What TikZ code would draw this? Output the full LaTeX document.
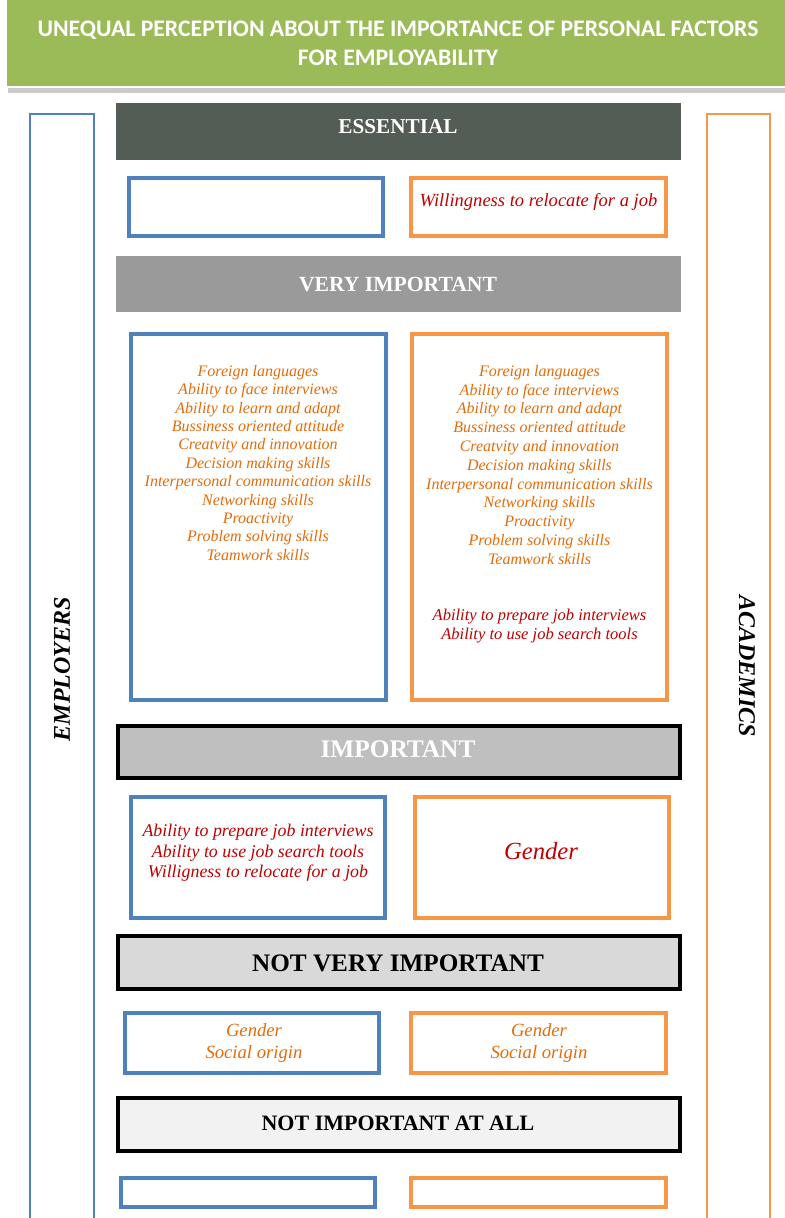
\documentclass[tikz,border=0pt]{standalone}
\usepackage{fontspec}
\setmainfont{Liberation Serif}
\newfontfamily\titlefont{Carlito}
\definecolor{titlegreen}{HTML}{9BBB59}
\definecolor{empblue}{HTML}{4F81BD}
\definecolor{acaorange}{HTML}{F79646}
\definecolor{essfill}{HTML}{535D55}
\definecolor{vimpfill}{HTML}{9A9A9A}
\definecolor{impfill}{HTML}{BFBFBF}
\definecolor{nvimpfill}{HTML}{D9D9D9}
\definecolor{nimpfill}{HTML}{F2F2F2}
\definecolor{itemorange}{HTML}{E46C0A}
\definecolor{itemred}{HTML}{C00000}
\tikzset{
  x=0.75pt, y=-0.75pt,
  empbox/.style={draw=empblue, line width=2.4pt, fill=white},
  acabox/.style={draw=acaorange, line width=2.4pt, fill=white},
  levelframed/.style={draw=black, line width=2.4pt},
  leveltext/.style={font=\bfseries\fontsize{#1}{#1}\selectfont, inner sep=0pt},
  itemtext/.style 2 args={font=\itshape\fontsize{#1}{#2}\selectfont, align=center, inner sep=0pt},
  orangelist/.style 2 args={text=itemorange, itemtext={#1}{#2}},
  redlist/.style 2 args={text=itemred, itemtext={#1}{#2}},
  sidetext/.style={font=\bfseries\itshape\fontsize{18}{18}\selectfont, inner sep=0pt}
}
\begin{document}
\begin{tikzpicture}
\useasboundingbox (0,0) rectangle (785,1218);

% title banner with a soft shadow
\fill[black!35, opacity=0.6] (8,4) rectangle (792,93);
\filldraw[fill=titlegreen, draw=white, line width=1.5pt] (6,-4) rectangle (792,87);
\node[text=white, align=center, font=\titlefont\bfseries\fontsize{17.8}{21.8}\selectfont] (title) at (398,43)
  {UNEQUAL PERCEPTION ABOUT THE IMPORTANCE OF PERSONAL FACTORS\\FOR EMPLOYABILITY};

% side columns
\draw[empblue, line width=2.2pt] (30,1225) -- (30,114) -- (94,114) -- (94,1225);
\draw[acaorange, line width=2.2pt] (707,1225) -- (707,114) -- (770,114) -- (770,1225);
\node[sidetext, rotate=90] (employers) at (62,669) {EMPLOYERS};
\node[sidetext, rotate=-90] (academics) at (747,666) {ACADEMICS};

% ESSENTIAL
\fill[essfill] (116,103) rectangle (681,160);
\node[leveltext=15.9, text=white] (essential) at (398,127) {ESSENTIAL};
\draw[empbox] (129,178) rectangle (383,236);
\draw[acabox] (411,178) rectangle (666,236);
\node[redlist={13.9}{14}] (ess-a) at (538.5,202) {Willingness to relocate for a job};

% VERY IMPORTANT
\fill[vimpfill] (116,256) rectangle (681,312);
\node[leveltext=16.2, text=white] (veryimp) at (398,285) {VERY IMPORTANT};
\draw[empbox] (131,334) rectangle (386,700);
\draw[acabox] (412,334) rectangle (667,700);
\node[orangelist={12}{13.8}, anchor=north] (vi-e) at (258,365) {Foreign languages\\Ability to face interviews\\Ability to learn and adapt\\Bussiness oriented attitude\\Creatvity and innovation\\Decision making skills\\Interpersonal communication skills\\Networking skills\\Proactivity\\Problem solving skills\\Teamwork skills};
\node[orangelist={12}{14.1}, anchor=north] (vi-a) at (539.5,365) {Foreign languages\\Ability to face interviews\\Ability to learn and adapt\\Bussiness oriented attitude\\Creatvity and innovation\\Decision making skills\\Interpersonal communication skills\\Networking skills\\Proactivity\\Problem solving skills\\Teamwork skills};
\node[redlist={12.4}{14.1}] (vi-a2) at (539.5,626) {Ability to prepare job interviews\\Ability to use job search tools};

% IMPORTANT
\filldraw[levelframed, fill=impfill] (118,726) rectangle (680,778);
\node[leveltext=19, text=white] (important) at (398,749) {IMPORTANT};
\draw[empbox] (131,797) rectangle (385,918);
\draw[acabox] (415,797) rectangle (669,918);
\node[redlist={13.4}{15.3}] (imp-e) at (258,853) {Ability to prepare job interviews\\Ability to use job search tools\\Willigness to relocate for a job};
\node[redlist={18.5}{18.5}] (imp-a) at (541,851) {Gender};

% NOT VERY IMPORTANT
\filldraw[levelframed, fill=nvimpfill] (118,936) rectangle (680,989);
\node[leveltext=18.9, text=black] (notvery) at (398,963) {NOT VERY IMPORTANT};
\draw[empbox] (125,1013) rectangle (379,1073);
\draw[acabox] (411,1013) rectangle (666,1073);
\node[orangelist={14}{15.8}] (nv-e) at (254,1043) {Gender\\Social origin};
\node[orangelist={14}{15.8}] (nv-a) at (539,1043) {Gender\\Social origin};

% NOT IMPORTANT AT ALL
\filldraw[levelframed, fill=nimpfill] (118,1098) rectangle (680,1151);
\node[leveltext=16.5, text=black] (notatall) at (398,1123) {NOT IMPORTANT AT ALL};
\draw[empbox] (121,1178) rectangle (375,1207);
\draw[acabox] (411,1178) rectangle (666,1207);
\end{tikzpicture}
\end{document}
